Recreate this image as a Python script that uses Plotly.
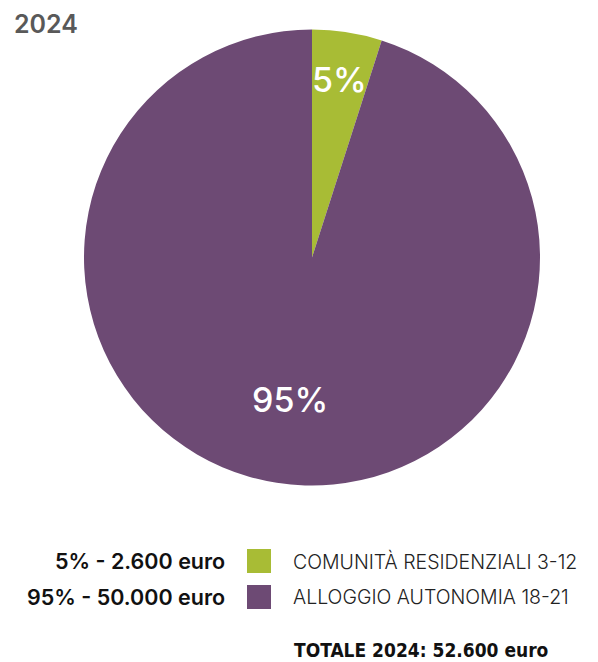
import math
import plotly.graph_objects as go

# Spending by service, 2024
categories = ["COMUNITÀ RESIDENZIALI 3-12", "ALLOGGIO AUTONOMIA 18-21"]
amounts = [2600, 50000]
percent_labels = ["5%", "95%"]
amount_labels = ["2.600 euro", "50.000 euro"]
colors = ["#A8BC35", "#6D4A74"]
year = "2024"
total_label = "TOTALE 2024: 52.600 euro"

W, H = 598, 662
FONT = "Inter"
# pie domain in paper coordinates
dom_x = [84 / W, 540 / W]
dom_y = [1 - 486 / H, 1 - 29 / H]

fig = go.Figure(
    go.Pie(
        labels=categories,
        values=amounts,
        marker=dict(colors=colors, line=dict(width=0)),
        sort=False,
        direction="clockwise",
        rotation=0,
        textinfo="none",
        hoverinfo="label+value+percent",
        showlegend=False,
        domain=dict(x=dom_x, y=dom_y),
    )
)

# slice labels placed along each slice's middle angle
cx = (dom_x[0] + dom_x[1]) / 2 * W
cy = (1 - (dom_y[0] + dom_y[1]) / 2) * H
radius = (dom_x[1] - dom_x[0]) * W / 2
label_r = [0.79, 0.63]
label_size = [34, 34]
total = sum(amounts)
start = 0.0
annotations = []
for i, v in enumerate(amounts):
    frac = v / total
    mid = (start + frac / 2) * 2 * math.pi
    start += frac
    px = cx + label_r[i] * radius * math.sin(mid)
    py = cy - label_r[i] * radius * math.cos(mid)
    annotations.append(dict(
        x=px / W, y=1 - py / H, xref="paper", yref="paper",
        text=percent_labels[i], showarrow=False,
        font=dict(family=FONT, size=label_size[i], color="white", weight=500),
        xanchor="center", yanchor="middle",
    ))

# year title
annotations.append(dict(
    x=12 / W, y=1 - 24 / H, xref="paper", yref="paper", text=year,
    showarrow=False, xanchor="left", yanchor="middle",
    font=dict(family=FONT, size=25, color="#595959", weight=600),
))

# custom legend rows
shapes = []
row_y = [561, 597]
for i in range(len(categories)):
    yc = 1 - row_y[i] / H
    annotations.append(dict(
        x=227 / W, y=yc, xref="paper", yref="paper",
        text=f"{percent_labels[i]} - {amount_labels[i]}",
        showarrow=False, xanchor="right", yanchor="middle",
        font=dict(family=FONT, size=21.5, color="#111111", weight=600),
    ))
    annotations.append(dict(
        x=291 / W, y=yc, xref="paper", yref="paper", text=categories[i],
        showarrow=False, xanchor="left", yanchor="middle",
        font=dict(family=FONT, size=19.5, color="#222222", weight=300),
    ))
    shapes.append(dict(
        type="rect", xref="paper", yref="paper",
        x0=247 / W, x1=271 / W,
        y0=1 - (row_y[i] + 12) / H, y1=1 - (row_y[i] - 12) / H,
        fillcolor=colors[i], line=dict(width=0),
    ))

annotations.append(dict(
    x=292 / W, y=1 - 650 / H, xref="paper", yref="paper",
    text=f"<b>{total_label}</b>", showarrow=False,
    xanchor="left", yanchor="middle",
    font=dict(family="DejaVu Sans Condensed", size=19, color="#111111"),
))

fig.update_layout(
    width=W, height=H,
    margin=dict(l=0, r=0, t=0, b=0),
    paper_bgcolor="white", plot_bgcolor="white",
    annotations=annotations, shapes=shapes,
)

fig.write_html("out.html")
